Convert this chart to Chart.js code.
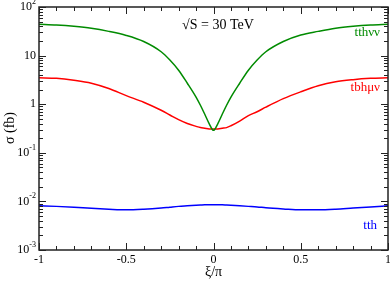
<!DOCTYPE html>
<html lang="en">
<head>
  <meta charset="UTF-8" />
  <title>sigma vs xi/pi</title>
  <script src="https://cdn.jsdelivr.net/npm/chart.js"></script>
  <style>
    body { margin: 0; background: #fff; }
    #c { display: block; }
  </style>
</head>
<body>
  <canvas id="c" width="390" height="281"></canvas>
  <script>
    // xi/pi sample points, shared by all curves
    const xi = [-1, -0.9, -0.8, -0.7, -0.6, -0.5, -0.4, -0.3, -0.25, -0.2, -0.15, -0.1, -0.075, -0.05, -0.025, 0,
                0.025, 0.05, 0.075, 0.1, 0.15, 0.2, 0.25, 0.3, 0.4, 0.5, 0.6, 0.7, 0.8, 0.9, 1];
    const tthvv = [44, 42.5, 40, 36.5, 31.5, 26, 19.5, 12, 8.1, 5.0, 2.7, 1.4, 0.95, 0.62, 0.4, 0.29,
                   0.4, 0.62, 0.95, 1.4, 2.7, 5.0, 8.1, 12, 19.5, 26.5, 31.5, 36.5, 40, 42.5, 44];
    const tbhmv = [3.5, 3.4, 3.1, 2.7, 2.1, 1.5, 1.1, 0.75, 0.6, 0.48, 0.4, 0.35, 0.33, 0.32, 0.31, 0.31,
                   0.31, 0.32, 0.33, 0.36, 0.45, 0.58, 0.7, 0.87, 1.3, 1.8, 2.4, 2.9, 3.2, 3.4, 3.5];
    const tth = [0.0081, 0.0079, 0.0076, 0.0072, 0.0069, 0.0067, 0.0069, 0.0073, 0.0076, 0.0079, 0.0081, 0.0083, 0.0084, 0.0085, 0.0085, 0.0085,
                 0.0085, 0.0085, 0.0084, 0.0083, 0.0081, 0.0079, 0.0077, 0.0074, 0.007, 0.0067, 0.0067, 0.0069, 0.0073, 0.0077, 0.0081];

    const xMajor = [-1, -0.5, 0, 0.5, 1];
    const xLabels = ['-1', '-0.5', '0', '0.5', '1'];
    const yExps = [2, 1, 0, -1, -2, -3];

    const pts = ys => xi.map((x, i) => ({ x: x, y: ys[i] }));

    const serif = '"Liberation Serif", "DejaVu Serif", serif';

    const frame = {
      id: 'frame',
      afterDatasetsDraw(chart) {
        const ctx = chart.ctx;
        const a = chart.chartArea;
        const xs = chart.scales.x, ys = chart.scales.y;
        ctx.save();
        ctx.strokeStyle = '#222';
        ctx.lineWidth = 1.5;
        ctx.strokeRect(a.left, a.top, a.right - a.left, a.bottom - a.top);

        ctx.lineWidth = 1;
        ctx.beginPath();
        // x ticks, major every 0.5, minor every 0.1, pointing inward top and bottom
        for (let k = -10; k <= 10; k++) {
          const v = k / 10;
          const px = Math.round(xs.getPixelForValue(v)) + 0.5;
          const len = k % 5 === 0 ? 7 : 4;
          ctx.moveTo(px, a.bottom); ctx.lineTo(px, a.bottom - len);
          ctx.moveTo(px, a.top); ctx.lineTo(px, a.top + len);
        }
        // y ticks, decades plus 2..9 minors, left and right
        for (let e = -3; e <= 2; e++) {
          for (let m = 1; m <= 9; m++) {
            if (e === 2 && m > 1) break;
            const py = Math.round(ys.getPixelForValue(m * Math.pow(10, e))) + 0.5;
            const len = m === 1 ? 7 : 4;
            ctx.moveTo(a.left, py); ctx.lineTo(a.left + len, py);
            ctx.moveTo(a.right, py); ctx.lineTo(a.right - len, py);
          }
        }
        ctx.stroke();

        ctx.fillStyle = '#000';
        ctx.textBaseline = 'middle';
        // x tick labels
        ctx.font = '12px ' + serif;
        ctx.textAlign = 'center';
        xMajor.forEach((v, i) => {
          ctx.fillText(xLabels[i], xs.getPixelForValue(v), a.bottom + 10);
        });
        // y tick labels with superscript exponents
        yExps.forEach(e => {
          const py = ys.getPixelForValue(Math.pow(10, e));
          const right = a.left - 3;
          if (e === 0 || e === 1) {
            ctx.font = '12px ' + serif;
            ctx.textAlign = 'right';
            ctx.fillText(e === 0 ? '1' : '10', right, py);
          } else {
            const sup = String(e);
            ctx.font = '8px ' + serif;
            const sw = ctx.measureText(sup).width;
            ctx.textAlign = 'right';
            ctx.fillText(sup, right, py - 5);
            ctx.font = '12px ' + serif;
            ctx.fillText('10', right - sw, py);
          }
        });

        // axis titles
        ctx.font = '14px ' + serif;
        ctx.textAlign = 'center';
        ctx.fillText('\u03BE/\u03C0', (a.left + a.right) / 2, 272);
        ctx.save();
        ctx.translate(10, 128);
        ctx.rotate(-Math.PI / 2);
        ctx.fillText('\u03C3 (fb)', 0, 0);
        ctx.restore();

        // annotations
        ctx.font = '14px ' + serif;
        ctx.fillText('\u221AS = 30 TeV', 218, 25);
        ctx.font = '13px ' + serif;
        ctx.textAlign = 'right';
        ctx.fillStyle = 'rgb(0,139,0)';
        ctx.fillText('tth\u03BD\u03BD', 380, 33);
        ctx.fillStyle = '#ff0000';
        ctx.fillText('tbh\u03BC\u03BD', 380, 88);
        ctx.fillStyle = '#0000ff';
        ctx.fillText('tth', 377, 226);
        ctx.restore();
      }
    };

    new Chart(document.getElementById('c'), {
      type: 'line',
      data: {
        datasets: [
          { label: 'tthvv', data: pts(tthvv), borderColor: 'rgb(0,139,0)' },
          { label: 'tbhmv', data: pts(tbhmv), borderColor: '#ff0000' },
          { label: 'tth', data: pts(tth), borderColor: '#0000ff' }
        ]
      },
      options: {
        responsive: false,
        animation: false,
        layout: { padding: { left: 39, right: 2, top: 7, bottom: 31 } },
        elements: {
          point: { radius: 0 },
          line: { borderWidth: 1.5, cubicInterpolationMode: 'monotone' }
        },
        plugins: { legend: { display: false }, tooltip: { enabled: false } },
        scales: {
          x: { type: 'linear', min: -1, max: 1, display: false },
          y: { type: 'logarithmic', min: 0.001, max: 100, display: false }
        }
      },
      plugins: [frame]
    });
  </script>
</body>
</html>
